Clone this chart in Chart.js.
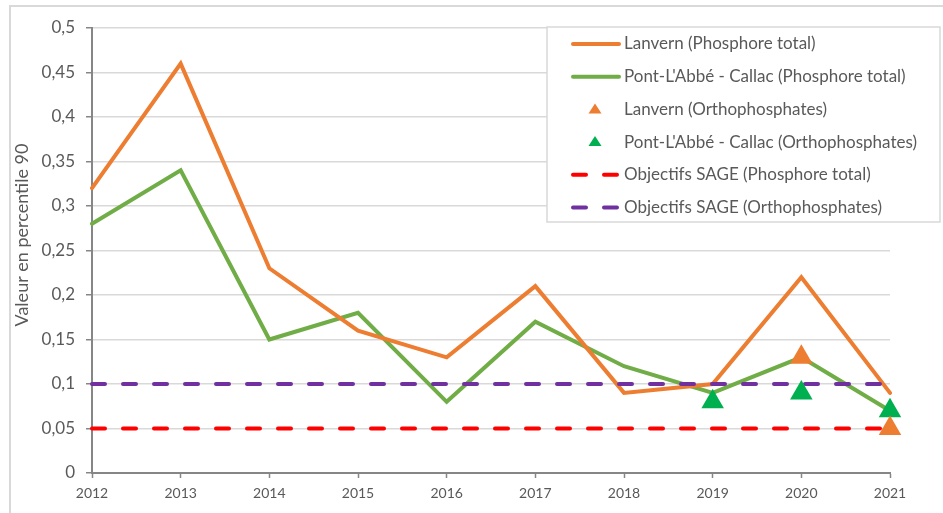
<!DOCTYPE html>
<html>
<head>
<meta charset="utf-8">
<script src="https://cdn.jsdelivr.net/npm/chart.js@4/dist/chart.umd.min.js"></script>
<style>
  html, body { margin: 0; padding: 0; background: #ffffff; }
  #wrap { width: 943px; height: 513px; position: relative; }
</style>
</head>
<body>
<div id="wrap"><canvas id="c" width="943" height="513"></canvas></div>
<script>
const years = ['2012','2013','2014','2015','2016','2017','2018','2019','2020','2021'];
const lanvernPT = [0.32, 0.46, 0.23, 0.16, 0.13, 0.21, 0.09, 0.10, 0.22, 0.09];
const pontPT = [0.28, 0.34, 0.15, 0.18, 0.08, 0.17, 0.12, 0.09, 0.13, 0.07];
const lanvernOrtho = [null, null, null, null, null, null, null, null, 0.13, 0.05];
const pontOrtho = [null, null, null, null, null, null, null, 0.08, 0.09, 0.07];
const sagePT = [0.05, 0.05, 0.05, 0.05, 0.05, 0.05, 0.05, 0.05, 0.05, 0.05];
const sageOrtho = [0.10, 0.10, 0.10, 0.10, 0.10, 0.10, 0.10, 0.10, 0.10, 0.10];
const yTickLabels = ['0','0,05','0,1','0,15','0,2','0,25','0,3','0,35','0,4','0,45','0,5'];
const seriesNames = [
  'Lanvern (Phosphore total)',
  "Pont-L'Abbé - Callac (Phosphore total)",
  'Lanvern (Orthophosphates)',
  "Pont-L'Abbé - Callac (Orthophosphates)",
  'Objectifs SAGE (Phosphore total)',
  'Objectifs SAGE (Orthophosphates)'
];
const axisTitle = 'Valeur en percentile 90';

const FONT = 'Lato, Carlito, "Open Sans", sans-serif';
const TXT = '#595959';

const frameAndLegend = {
  id: 'frameAndLegend',
  beforeDraw(chart) {
    const ctx = chart.ctx;
    ctx.save();
    ctx.strokeStyle = '#d9d9d9';
    ctx.lineWidth = 2;
    ctx.beginPath();
    ctx.moveTo(10, 513);
    ctx.lineTo(10, 6);
    ctx.lineTo(943, 6);
    ctx.stroke();
    // y axis title
    ctx.translate(22, 235);
    ctx.rotate(-Math.PI / 2);
    ctx.fillStyle = TXT;
    ctx.font = '18px ' + FONT;
    ctx.textAlign = 'center';
    ctx.textBaseline = 'middle';
    ctx.fillText(axisTitle, 0, 0);
    ctx.restore();
  },
  afterDraw(chart) {
    const ctx = chart.ctx;
    const bx = 547, by = 27, bw = 393, bh = 195;
    ctx.save();
    ctx.fillStyle = '#ffffff';
    ctx.fillRect(bx, by, bw, bh);
    ctx.strokeStyle = '#d9d9d9';
    ctx.lineWidth = 1.5;
    ctx.strokeRect(bx, by, bw, bh);
    const rowY0 = 44, rowStep = 32.7;
    chart.data.datasets.forEach((ds, i) => {
      const y = rowY0 + i * rowStep;
      if (ds.showLine === false) {
        ctx.fillStyle = ds.backgroundColor;
        ctx.beginPath();
        ctx.moveTo(595, y - 6);
        ctx.lineTo(601.5, y + 4);
        ctx.lineTo(588.5, y + 4);
        ctx.closePath();
        ctx.fill();
      } else {
        ctx.strokeStyle = ds.borderColor;
        ctx.lineWidth = ds.borderWidth;
        ctx.lineCap = 'round';
        ctx.setLineDash(ds.borderDash && ds.borderDash.length ? [13, 18] : []);
        ctx.beginPath();
        ctx.moveTo(573, y);
        ctx.lineTo(619, y);
        ctx.stroke();
        ctx.setLineDash([]);
      }
      ctx.fillStyle = TXT;
      ctx.font = '17px ' + FONT;
      ctx.textBaseline = 'middle';
      ctx.textAlign = 'left';
      ctx.fillText(ds.label, 624, y);
    });
    ctx.restore();
  }
};

new Chart(document.getElementById('c'), {
  type: 'line',
  data: {
    labels: years,
    datasets: [
      { label: seriesNames[0], data: lanvernPT, borderColor: '#ED7D31', backgroundColor: '#ED7D31',
        borderWidth: 4, pointRadius: 0, pointHoverRadius: 0, tension: 0, order: 2, borderCapStyle: 'round' },
      { label: seriesNames[1], data: pontPT, borderColor: '#70AD47', backgroundColor: '#70AD47',
        borderWidth: 4, pointRadius: 0, pointHoverRadius: 0, tension: 0, order: 3, borderCapStyle: 'round' },
      { label: seriesNames[2], data: lanvernOrtho, showLine: false, pointStyle: 'triangle',
        pointRadius: 13, pointHoverRadius: 13, backgroundColor: '#ED7D31', borderColor: '#ED7D31', borderWidth: 0, order: 0 },
      { label: seriesNames[3], data: pontOrtho, showLine: false, pointStyle: 'triangle',
        pointRadius: 13, pointHoverRadius: 13, backgroundColor: '#00B050', borderColor: '#00B050', borderWidth: 0, order: 0 },
      { label: seriesNames[4], data: sagePT, borderColor: '#FF0000', backgroundColor: '#FF0000',
        borderWidth: 4, borderDash: [13, 18], borderCapStyle: 'round', pointRadius: 0, pointHoverRadius: 0, order: 1 },
      { label: seriesNames[5], data: sageOrtho, borderColor: '#7030A0', backgroundColor: '#7030A0',
        borderWidth: 4, borderDash: [13, 18], borderCapStyle: 'round', pointRadius: 0, pointHoverRadius: 0, order: 1 }
    ]
  },
  options: {
    responsive: false,
    devicePixelRatio: 1,
    animation: false,
    layout: { padding: { top: 28, right: 53, left: 0, bottom: 0 } },
    plugins: { legend: { display: false }, tooltip: { enabled: false } },
    scales: {
      x: {
        type: 'category',
        offset: false,
        grid: { drawOnChartArea: false, drawTicks: true, tickLength: 5, tickColor: '#868686', tickWidth: 1.5 },
        border: { color: '#868686', width: 2 },
        ticks: { color: TXT, font: { family: FONT, size: 14 }, padding: 7, maxRotation: 0, autoSkip: false },
        afterFit(s) { s.height = 40; }
      },
      y: {
        min: 0, max: 0.5,
        grid: { color: '#d9d9d9', lineWidth: 1.5, tickLength: 6, tickColor: '#868686', tickWidth: 1.5 },
        border: { color: '#868686', width: 2 },
        ticks: { stepSize: 0.05, color: TXT, font: { family: FONT, size: 17 }, padding: 11,
                 callback: (v, i) => yTickLabels[i] },
        title: { display: false },
        afterFit(s) { s.width = 92; }
      }
    }
  },
  plugins: [frameAndLegend]
});
</script>
</body>
</html>
